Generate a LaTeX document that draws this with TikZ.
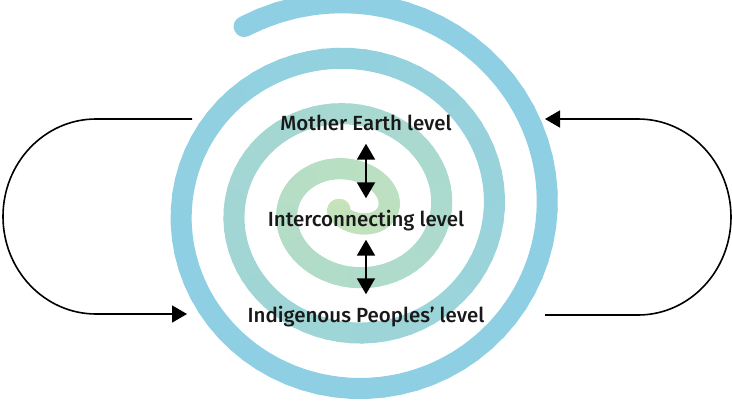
\documentclass[tikz,border=0pt]{standalone}
\usepackage{fontspec}
\setmainfont{Fira Sans}[UprightFont=* Medium]
\usetikzlibrary{arrows.meta}
\definecolor{spiralgreen}{RGB}{200,228,184}
\definecolor{spiralblue}{RGB}{142,207,227}
\tikzset{
  leveltext/.style={font=\fontsize{20.5}{24}\selectfont, text=black!90, anchor=base, inner sep=0pt, text height=16pt, text depth=5pt},
  updown/.style={{Triangle[width=18pt,length=16pt]}-{Triangle[width=18pt,length=16pt]}, line width=2pt, shorten <=8.5pt, shorten >=11.5pt},
  loopline/.style={-{Triangle[width=17pt,length=15pt]}, line width=1.6pt},
}
\begin{document}
\begin{tikzpicture}[x=1pt,y=-1pt]
      \useasboundingbox (0,0) rectangle (732,405);
      % spiral, green in the middle and blue outside
      \foreach \a in {180,185,...,1555}{
        \pgfmathtruncatemacro\p{min(100,(\a-180)/11)}
        \pgfmathsetmacro\b{\a+5}
        \draw[line width=21pt,line cap=round,spiralblue!\p!spiralgreen] plot[domain=\a:\b,samples=2,variable=\t] ({351+(-15.5+0.147*\t)*cos(\t)},{209.5-(-29.6+0.1544*\t)*sin(\t)});
      }
      \node[leveltext] (mother) at (366,130) {Mother Earth level};
      \node[leveltext] (inter) at (366,226) {Interconnecting level};
      \node[leveltext] (indig) at (366,322) {Indigenous Peoples' level};
      \draw[updown] (mother) -- (inter);
      \draw[updown] (inter) -- (indig);
      \coordinate (lstart) at (192,119);
      \coordinate (lend) at (187,314);
      \coordinate (rstart) at (545,315);
      \coordinate (rend) at (545,119);
      \draw[loopline] (lstart) -- (96,119) arc[start angle=270,end angle=90,x radius=93,y radius=97.5] -- (lend);
      \draw[loopline] (rstart) -- (638,315) arc[start angle=90,end angle=-90,x radius=93,y radius=98] -- (rend);
    \end{tikzpicture}
\end{document}
